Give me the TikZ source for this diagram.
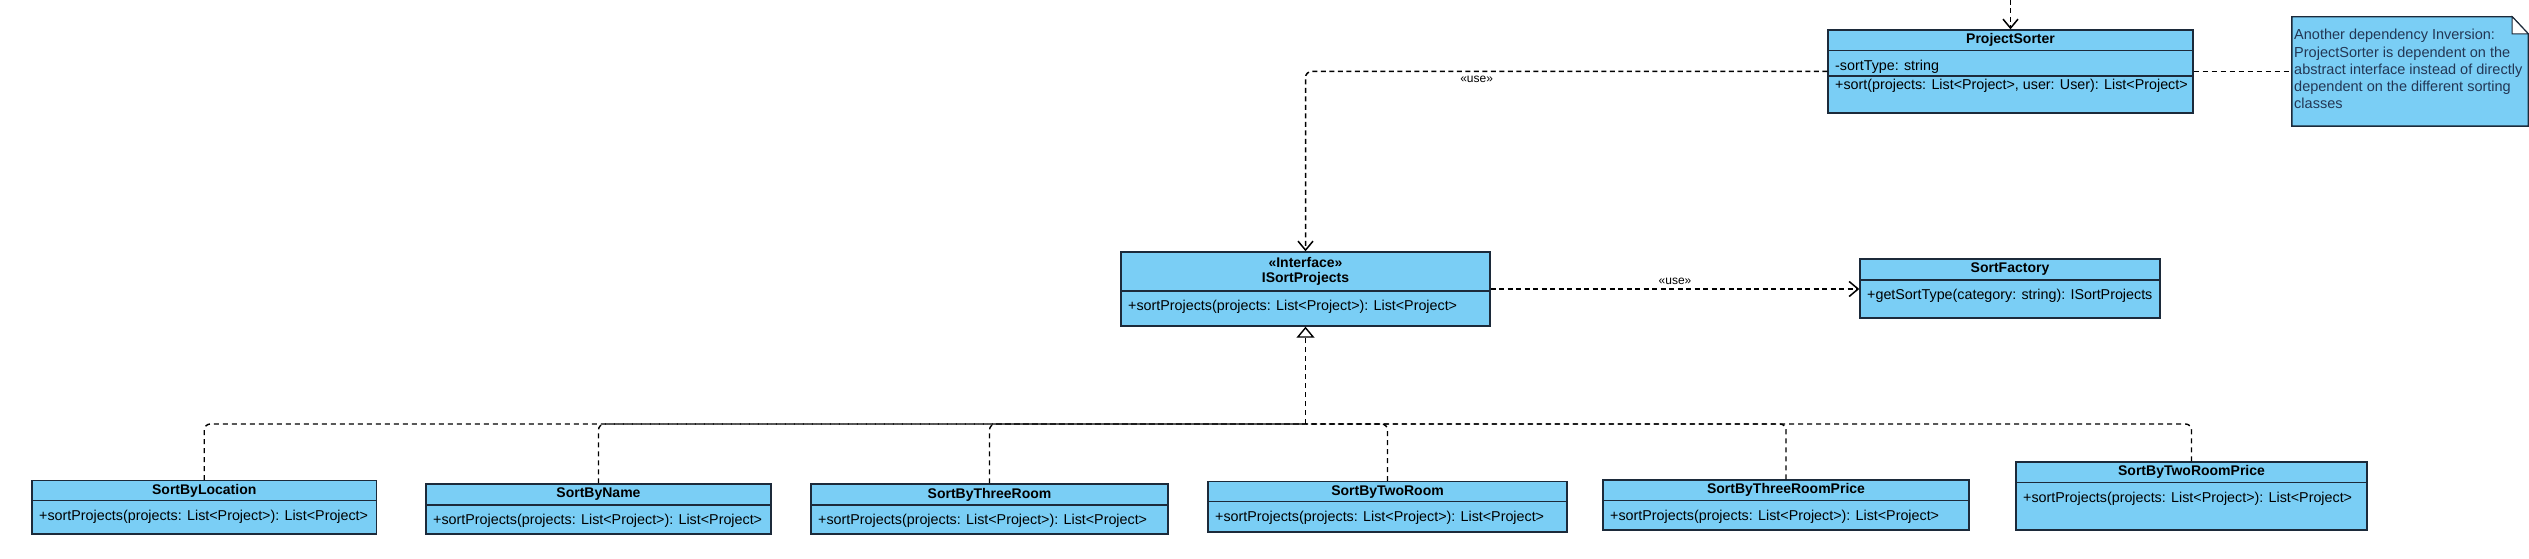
\documentclass[tikz,border=0pt]{standalone}
\usepackage{fontspec}
\setmainfont{Liberation Sans}
\usepackage{tikz}
\usetikzlibrary{arrows.meta,fit}

\definecolor{umlfill}{RGB}{122,206,245}
\definecolor{umlline}{RGB}{28,42,58}
\definecolor{notefont}{RGB}{35,55,85}

% class box: name, x1, y1, x2, y2, header line, title, operation
\newcommand{\umlclass}[8]{%
  \node[classbox, fit={(#2,#3) (#4,#5)}] (#1) {};
  \draw[classrule] (#2,#6) -- (#4,#6);
  \node[classname] (#1-name) at ({(#2+#4)/2},{(#3+#6)/2}) {#7};
  \node[classop] (#1-op) at (#2+7,#6+16) {#8};
}

\begin{document}
\begin{tikzpicture}[x=1pt,y=-1pt,>={Straight Barb[length=9pt,width=15pt]},
    classbox/.style={draw=umlline,fill=umlfill,line width=1.4pt,inner sep=0pt},
    classrule/.style={draw=umlline,line width=1.4pt},
    classname/.style={font=\bfseries\fontsize{14}{15.5}\selectfont,align=center,inner sep=0pt},
    classop/.style={font=\fontsize{14.3}{17}\selectfont,anchor=west,inner sep=0pt},
    usedep/.style={->,dash pattern=on 5pt off 3.5pt,line width=1.5pt},
    uselabel/.style={font=\fontsize{12}{14}\selectfont,inner sep=4pt},
    realizes/.style={-{Triangle[open,length=11pt,width=18pt]},dash pattern=on 5pt off 4pt,line width=1.4pt},
    notelink/.style={dash pattern=on 5pt off 4pt,line width=1pt},
    notebody/.style={font=\fontsize{14.5}{17.3}\selectfont,text=notefont,align=left,inner sep=0pt}]

  \useasboundingbox (0,0) rectangle (2529,559);

  % top row
  \umlclass{sorter}{1828}{30}{2193}{113}{50.7}{ProjectSorter}{-sortType: string}
  \draw[classrule] (1828,76) -- (2193,76);
  \node[classop] (sorter-op) at (1835,86) {+sort(projects: List<Project>, user: User): List<Project>};

  \node[fit={(2292,17) (2528,126)}, inner sep=0pt] (note) {};
  \draw[classrule, fill=umlfill] (note.south west) -- (note.north west) -- ([xshift=-16pt]note.north east)
    -- ([yshift=-17pt]note.north east) -- (note.south east) -- cycle;
  \draw[classrule, line width=1pt, fill=white] ([xshift=-16pt]note.north east) -- ([xshift=-16pt,yshift=-17pt]note.north east)
    -- ([yshift=-17pt]note.north east) -- cycle;
  \node[notebody, anchor=north west] (note-text) at (2294,29) {Another dependency Inversion:\\ProjectSorter is dependent on the\\abstract interface instead of directly\\dependent on the different sorting\\classes};

  % middle row
  \umlclass{isort}{1121}{252}{1490}{326}{291}{«Interface»\\ISortProjects}{+sortProjects(projects: List<Project>): List<Project>}
  \umlclass{factory}{1860}{259}{2160}{318}{280}{SortFactory}{+getSortType(category: string): ISortProjects}

  % bottom row
  \umlclass{location}{32}{480.7}{376.5}{534}{500.7}{SortByLocation}{+sortProjects(projects: List<Project>): List<Project>}
  \umlclass{byname}{426}{484}{771}{534}{505}{SortByName}{+sortProjects(projects: List<Project>): List<Project>}
  \umlclass{three}{811}{484}{1168}{534}{505}{SortByThreeRoom}{+sortProjects(projects: List<Project>): List<Project>}
  \umlclass{two}{1208}{481.7}{1567}{532}{501.7}{SortByTwoRoom}{+sortProjects(projects: List<Project>): List<Project>}
  \umlclass{threeprice}{1603}{480}{1969}{530}{500.7}{SortByThreeRoomPrice}{+sortProjects(projects: List<Project>): List<Project>}
  \umlclass{twoprice}{2016}{462}{2367}{530}{482.7}{SortByTwoRoomPrice}{+sortProjects(projects: List<Project>): List<Project>}

  % connectors
  \coordinate (caller) at (2010.5,0);
  \coordinate (bus) at (1305.5,424);

  \draw[usedep] (caller) -- (sorter.north);
  \draw[usedep, rounded corners=6pt] (sorter.west) -| node[pos=0.336, below, uselabel] {«use»} (isort.north);
  \draw[usedep] (isort.east) -- node[above, uselabel] {«use»} (isort.east -| factory.west);
  \draw[notelink] (sorter.east) -- (note.west);

  \draw[realizes] (bus) -- (isort.south);
  \foreach \c in {location,byname,three,two,threeprice,twoprice}
    \draw[dash pattern=on 5pt off 4pt, line width=1.4pt, rounded corners=6pt] (\c.north) |- (bus);

\end{tikzpicture}
\end{document}
